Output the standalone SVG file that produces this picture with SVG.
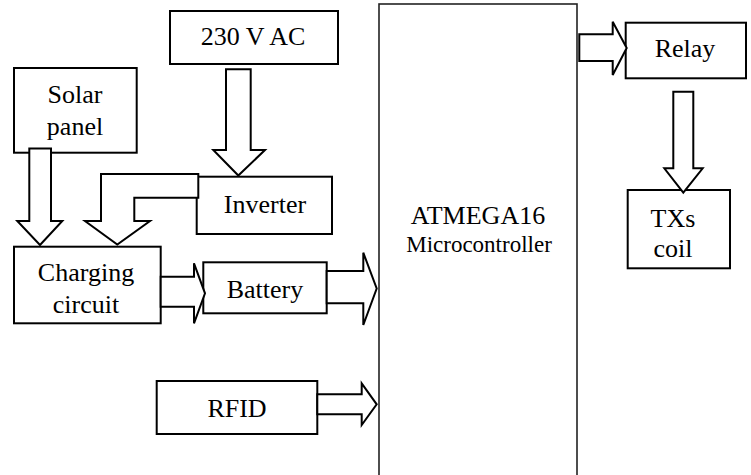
<svg xmlns="http://www.w3.org/2000/svg" width="751" height="475" viewBox="0 0 751 475">
<style>
.box{fill:#fff;stroke:#000;stroke-width:2}
.mcu{fill:#fff;stroke:#222;stroke-width:1.6}
.arr{fill:#fff;stroke:#000;stroke-width:2;stroke-linejoin:miter}
text{font-family:"Liberation Serif","Times New Roman",serif;font-size:26px;fill:#000;text-anchor:middle}
.small{font-size:23px}
</style>
<rect width="751" height="475" fill="#fff"/>
<g id="mcu"><rect class="mcu" x="379" y="4" width="198" height="490"/>
<text x="478" y="224">ATMEGA16</text><text class="small" x="479" y="252">Microcontroller</text></g>
<g id="ac"><rect class="box" x="170" y="11" width="168" height="53"/><text x="253" y="45">230 V AC</text></g>
<g id="solar"><rect class="box" x="14" y="68" width="122.7" height="84.7"/><text x="75" y="103">Solar</text><text x="75" y="135">panel</text></g>
<g id="inverter"><rect class="box" x="196.7" y="176.7" width="135.3" height="57.3"/><text x="265" y="213">Inverter</text></g>
<g id="charging"><rect class="box" x="14" y="246.7" width="146.7" height="76.6"/><text x="86" y="281">Charging</text><text x="86" y="313">circuit</text></g>
<g id="battery"><rect class="box" x="203.3" y="262.3" width="123.4" height="51"/><text x="265" y="298">Battery</text></g>
<g id="rfid"><rect class="box" x="156.7" y="381" width="160.6" height="53"/><text x="237" y="417">RFID</text></g>
<g id="relay"><rect class="box" x="625.7" y="22.7" width="120.3" height="55.6"/><text x="685" y="57">Relay</text></g>
<g id="txs"><rect class="box" x="627.7" y="190" width="102.3" height="78.3"/><text x="673" y="227">TXs</text><text x="673" y="257">coil</text></g>
<g id="connectors">
<polygon class="arr" points="29.3,148.5 51,148.5 51,221 62.3,221 40,245 17.3,221 29.3,221"/>
<polygon class="arr" points="198.3,174 101,174 101,221 85,221 117.3,244.5 150,221 134.3,221 134.3,197.7 198.3,197.7"/>
<polygon class="arr" points="226,69.3 250.7,69.3 250.7,150 265,150 238.3,175.5 213.3,150 226,150"/>
<polygon class="arr" points="160.7,276.7 194,276.7 194,263.3 205,293.3 194,323.3 194,306.7 160.7,306.7"/>
<polygon class="arr" points="326.7,271 363.3,271 363.3,252.7 376.7,288.5 363.3,325 363.3,303.3 326.7,303.3"/>
<polygon class="arr" points="317.3,394.3 361.7,394.3 361.7,383.3 376.7,404.3 361.7,425 361.7,414.3 317.3,414.3"/>
<polygon class="arr" points="579.3,34.3 612.7,34.3 612.7,21.7 626.7,48 612.7,75 612.7,61 579.3,61"/>
<polygon class="arr" points="673.3,91.7 693.3,91.7 693.3,168.3 702.7,168.3 683.3,192.7 664.3,168.3 673.3,168.3"/>
</g>
</svg>
